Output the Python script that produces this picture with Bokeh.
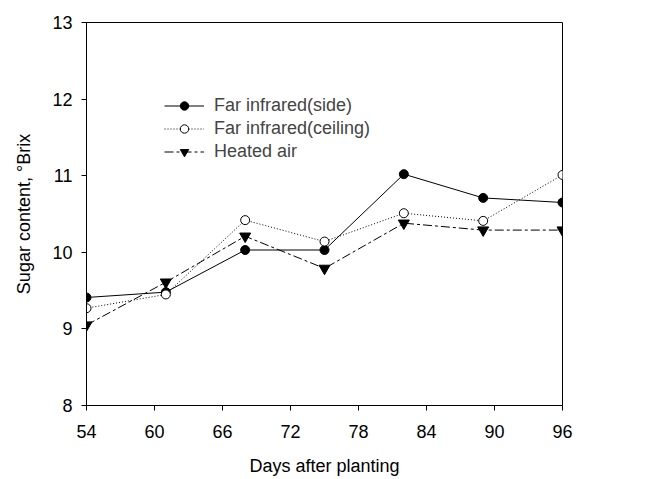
from bokeh.plotting import figure
from bokeh.models import Range1d, Legend, LegendItem, FixedTicker
from bokeh.embed import file_html
from bokeh.resources import INLINE

days = [54, 61, 68, 75, 82, 89, 96]
side = [9.41, 9.48, 10.03, 10.03, 11.02, 10.71, 10.65]
ceiling = [9.27, 9.45, 10.42, 10.14, 10.51, 10.41, 11.01]
heated = [9.05, 9.61, 10.21, 9.79, 10.38, 10.29, 10.29]
x_ticks = [54, 60, 66, 72, 78, 84, 90, 96]
y_ticks = [8, 9, 10, 11, 12, 13]
names = ["Far infrared(side)", "Far infrared(ceiling)", "Heated air"]

FONT = "Liberation Sans"
FS = "18px"

p = figure(width=641, height=479, output_backend="svg", toolbar_location=None,
           x_range=Range1d(54, 96), y_range=Range1d(8, 13),
           min_border_left=86, min_border_right=79, min_border_top=22, min_border_bottom=74)
p.grid.visible = False
p.outline_line_color = "black"
p.outline_line_width = 1
p.background_fill_color = "white"
p.border_fill_color = "white"

for ax in (p.xaxis[0], p.yaxis[0]):
    ax.axis_line_color = "black"
    ax.major_tick_line_color = "black"
    ax.major_tick_out = 5
    ax.major_tick_in = 0
    ax.minor_tick_line_color = None
    ax.major_label_text_font = FONT
    ax.major_label_text_font_size = FS
    ax.major_label_text_color = "black"
    ax.axis_label_text_font = FONT
    ax.axis_label_text_font_size = FS
    ax.axis_label_text_font_style = "normal"
    ax.axis_label_text_color = "black"

p.xaxis.ticker = FixedTicker(ticks=x_ticks)
p.yaxis.ticker = FixedTicker(ticks=y_ticks)
p.xaxis.axis_label = "Days after planting"
p.yaxis.axis_label = "Sugar content, °Brix"
p.xaxis.major_label_standoff = 14
p.xaxis.axis_label_standoff = 15
p.yaxis.major_label_standoff = 9
p.yaxis.axis_label_standoff = 15

l1 = p.line(days, side, line_color="black", line_width=1)
m1 = p.scatter(days, side, marker="circle", size=9, fill_color="black", line_color="black")
l2 = p.line(days, ceiling, line_color="black", line_width=1, line_dash="1 2")
m2 = p.scatter(days, ceiling, marker="circle", size=9, fill_color="white", line_color="black")
l3 = p.line(days, heated, line_color="black", line_width=1, line_dash="9 3 3 3")
m3 = p.scatter(days, heated, marker="inverted_triangle", size=11, fill_color="black", line_color="black")

legend = Legend(items=[LegendItem(label=names[0], renderers=[l1, m1]),
                       LegendItem(label=names[1], renderers=[l2, m2]),
                       LegendItem(label=names[2], renderers=[l3, m3])],
                location=(78, 243), glyph_width=40, glyph_height=21, spacing=2,
                padding=0, margin=0, label_standoff=10,
                label_text_font=FONT, label_text_font_size=FS,
                border_line_color=None, background_fill_alpha=0)
p.add_layout(legend)

open("out.html", "w").write(file_html(p, INLINE))
